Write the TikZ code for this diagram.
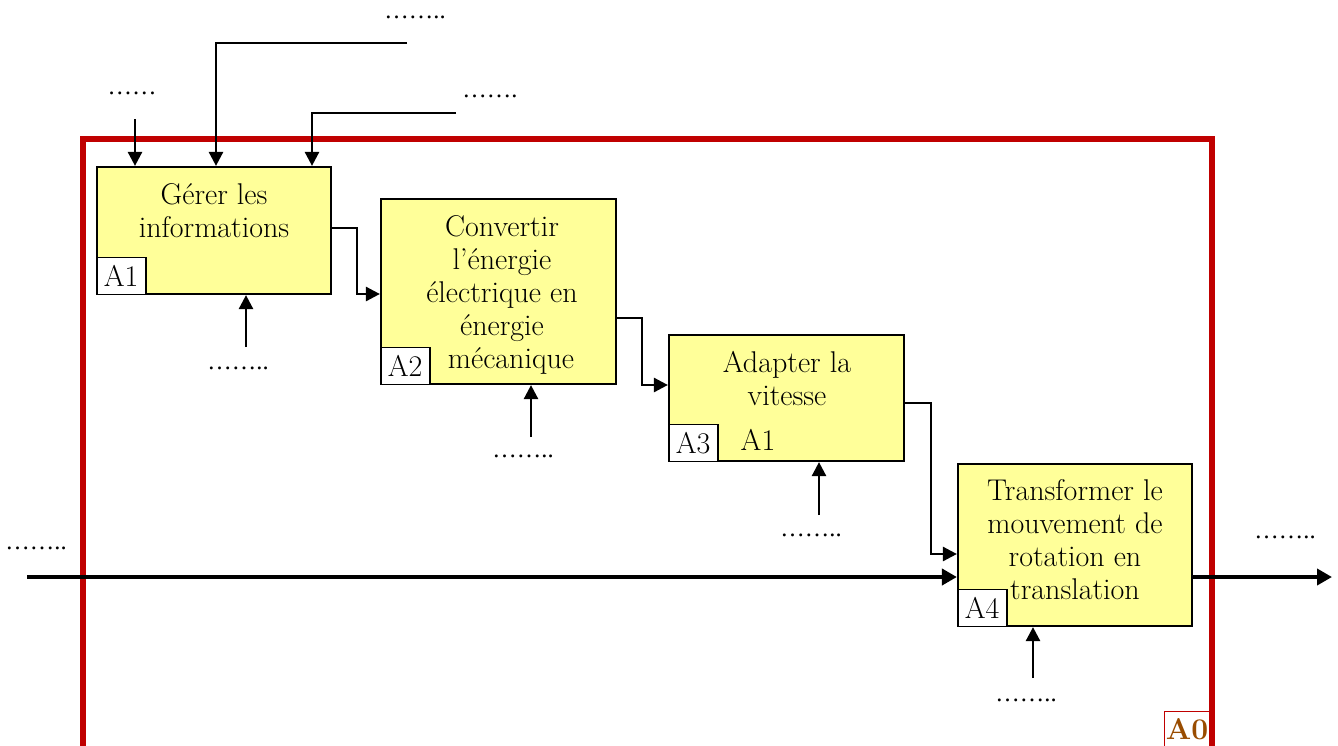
\documentclass[tikz,border=0pt]{standalone}
\usepackage{fontspec}
\newfontfamily\dotfont{Liberation Serif}
\usetikzlibrary{arrows.meta}
\definecolor{frameRed}{RGB}{192,0,0}
\definecolor{boxFill}{RGB}{255,255,153}
\definecolor{brownA}{RGB}{153,76,0}
\begin{document}
\begin{tikzpicture}[x=1pt,y=-1pt,
  big/.style={font=\fontsize{30}{33}\selectfont},
  proc/.style={draw=black,line width=2.2pt,fill=boxFill,inner sep=0pt},
  lbl/.style={draw=black,line width=1.6pt,fill=white,inner sep=0pt,minimum width=49pt,minimum height=37pt,anchor=south west,big},
  txt/.style={big,align=center,inner sep=0pt},
  dots/.style={font=\dotfont\fontsize{24.5}{28}\selectfont,inner sep=0pt},
  arr/.style={line width=2.6pt,-{Triangle[length=14pt,width=14pt]}},
  mainarr/.style={line width=4pt,-{Triangle[length=15pt,width=16pt]}}
]
\useasboundingbox (0,0) rectangle (1338,745);
\clip (0,0) rectangle (1338,745);

% frame A0
\draw[frameRed,line width=6pt] (83,760) -- (83,139) -- (1212,139) -- (1212,760);
\node[draw=frameRed,line width=1.2pt,fill=white,minimum width=45pt,minimum height=40pt,inner sep=0pt,anchor=north west] (A0) at (1164,711) {};
\node[font=\fontsize{30}{33}\selectfont\bfseries,text=brownA,inner sep=0pt] (A0t) at (1187,729) {A0};

% boxes
\node[proc,minimum width=234pt,minimum height=127pt] (A1) at (214,230.5) {};
\node[proc,minimum width=235pt,minimum height=185pt] (A2) at (498.5,291.5) {};
\node[proc,minimum width=235pt,minimum height=126pt] (A3) at (786.5,398) {};
\node[proc,minimum width=234pt,minimum height=162pt] (A4) at (1075,545) {};

\node[lbl] (L1) at (A1.south west) {A1};
\node[lbl] (L2) at (A2.south west) {A2};
\node[lbl] (L3) at (A3.south west) {A3};
\node[lbl] (L4) at (A4.south west) {A4};

\node[txt] (T1) at (214,210.5) {Gérer les\\informations};
\node[txt] (T2) at (502,295) {Convertir\\l’énergie\\électrique en\\énergie\\\hspace{18pt}mécanique};
\node[txt] (T3) at (787,379) {Adapter la\\vitesse};
\node[txt] (T3b) at (758,439.5) {A1};
\node[txt] (T4) at (1075,540) {Transformer le\\mouvement de\\rotation en\\translation};

% coordinates for free ends
\coordinate (t1) at (135,119);
\coordinate (t2) at (407,43);
\coordinate (t3) at (456,113);
\coordinate (b1) at (246,347);
\coordinate (b2) at (531,437);
\coordinate (b3) at (819,515);
\coordinate (b4) at (1033,678);
\coordinate (in) at (27,577);
\coordinate (out) at (1332,577);

% controls
\draw[arr] (t1) -- (t1 |- A1.north);
\draw[arr] (t2) -| ([xshift=2pt]A1.north);
\draw[arr] (t3) -| ([xshift=98pt]A1.north);

% mechanisms
\draw[arr] (b1) -- (b1 |- A1.south);
\draw[arr] (b2) -- (b2 |- A2.south);
\draw[arr] (b3) -- (b3 |- A3.south);
\draw[arr] (b4) -- (b4 |- A4.south);

% links
\draw[arr] ([yshift=2.5pt]A1.east) -- ++(25,0) |- ([yshift=-2.5pt]A2.west);
\draw[arr] ([yshift=-26.5pt]A2.east) -- ++(25,0) |- ([yshift=13pt]A3.west);
\draw[arr] ([yshift=-5pt]A3.east) -- ++(26,0) |- ([yshift=-9pt]A4.west);

% main flow
\draw[mainarr] (in) -- ([yshift=-32pt]A4.west);
\draw[mainarr] ([yshift=-32pt]A4.east) -- (out);

% dotted labels
\node[dots] (d1) at (132,93) {……};
\node[dots] (d2) at (415,17) {……..};
\node[dots] (d3) at (490,96) {…….};
\node[dots] (d4) at (238,368) {……..};
\node[dots] (d5) at (523,456) {……..};
\node[dots] (d6) at (811,535) {……..};
\node[dots] (d7) at (1026,700) {……..};
\node[dots] (d8) at (36,548) {……..};
\node[dots] (d9) at (1285,537) {……..};
\end{tikzpicture}
\end{document}
